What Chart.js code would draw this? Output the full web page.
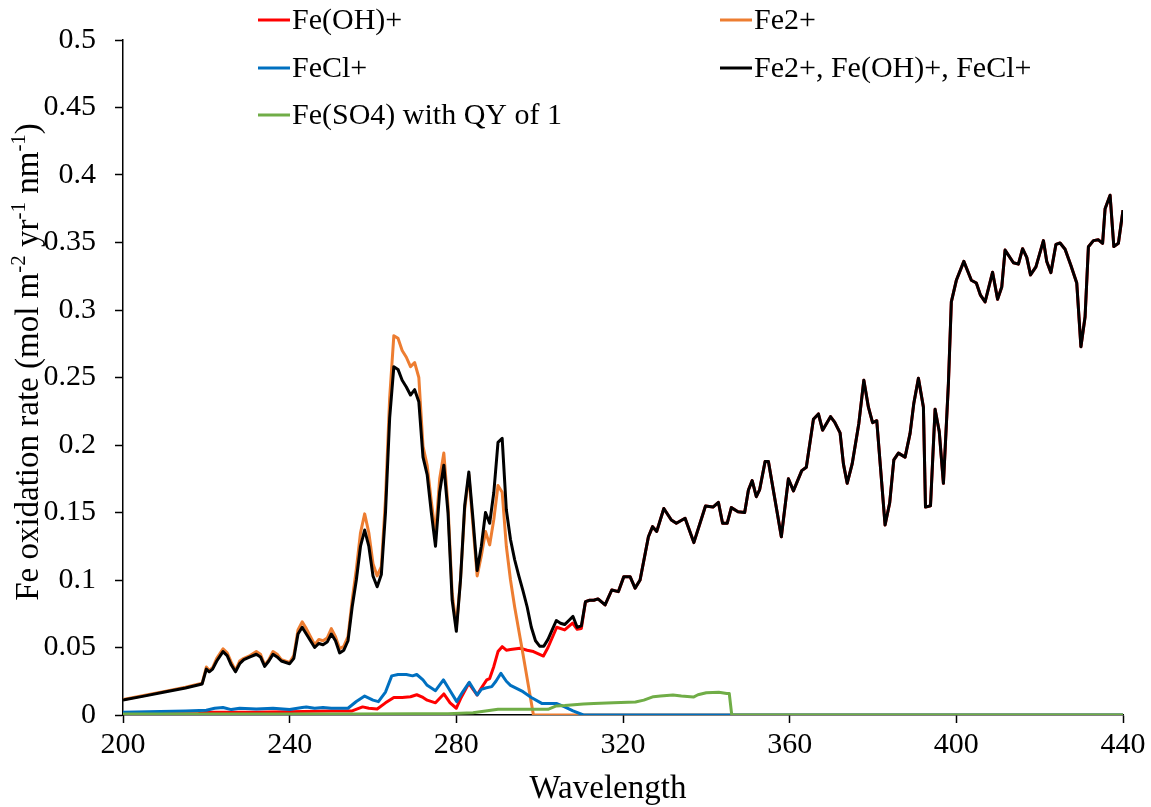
<!DOCTYPE html>
<html>
<head>
<meta charset="utf-8">
<title>Fe oxidation rate</title>
<script src="https://cdn.jsdelivr.net/npm/chart.js@4.4.1/dist/chart.umd.min.js"></script>
<style>
    html, body { margin: 0; padding: 0; background: #fff; }
    #chart { display: block; }
</style>
</head>
<body>
<canvas id="chart" width="1151" height="807"></canvas>
<script>
// Fe2+ (orange)
const fe2Nm = [200, 205, 210, 215, 219, 220, 220.7, 221.5, 222.5, 224, 225, 226, 227, 228, 229, 230.5, 232, 233, 234, 235, 236, 237, 238, 240, 241, 242, 243, 244, 245, 246, 247, 248, 249, 250, 251, 252, 253, 254, 255, 256, 257, 258, 259, 260, 261, 262, 263, 264, 265, 266, 267, 268, 269, 270, 271, 272, 273, 274, 275, 276, 277, 278, 279, 280, 281, 282, 283, 284, 285, 286, 287, 288, 289, 290, 291, 292, 293, 294, 296, 298.5, 440];
const fe2Rate = [0.0115, 0.0145, 0.0175, 0.0205, 0.0235, 0.0355, 0.033, 0.035, 0.042, 0.049, 0.046, 0.039, 0.033, 0.040, 0.042, 0.044, 0.047, 0.045, 0.037, 0.041, 0.047, 0.045, 0.041, 0.039, 0.044, 0.063, 0.069, 0.064, 0.058, 0.052, 0.056, 0.055, 0.057, 0.064, 0.058, 0.049, 0.051, 0.058, 0.085, 0.108, 0.135, 0.149, 0.135, 0.112, 0.103, 0.110, 0.160, 0.235, 0.281, 0.279, 0.270, 0.265, 0.258, 0.261, 0.250, 0.199, 0.185, 0.158, 0.134, 0.175, 0.194, 0.155, 0.090, 0.065, 0.100, 0.152, 0.178, 0.140, 0.103, 0.118, 0.136, 0.126, 0.145, 0.170, 0.165, 0.125, 0.100, 0.080, 0.045, 0, 0];

// Fe2+, Fe(OH)+, FeCl+ (black) up to 310 nm
const totalNm = [200, 205, 210, 215, 219, 220, 220.7, 221.5, 222.5, 224, 225, 226, 227, 228, 229, 230.5, 232, 233, 234, 235, 236, 237, 238, 240, 241, 242, 243, 244, 245, 246, 247, 248, 249, 250, 251, 252, 253, 254, 255, 256, 257, 258, 259, 260, 261, 262, 263, 264, 265, 266, 267, 268, 269, 270, 271, 272, 273, 274, 275, 276, 277, 278, 279, 280, 281, 282, 283, 284, 285, 286, 287, 288, 289, 290, 291, 292, 293, 294, 295, 296, 297, 298, 299, 300, 301, 302, 303, 304, 305, 306, 307, 308, 309, 310];
const totalRate = [0.011, 0.014, 0.017, 0.020, 0.023, 0.034, 0.032, 0.034, 0.040, 0.047, 0.044, 0.037, 0.032, 0.038, 0.041, 0.043, 0.045, 0.043, 0.036, 0.040, 0.045, 0.043, 0.040, 0.038, 0.042, 0.060, 0.065, 0.060, 0.055, 0.050, 0.053, 0.052, 0.054, 0.060, 0.055, 0.046, 0.048, 0.055, 0.080, 0.100, 0.125, 0.137, 0.125, 0.103, 0.095, 0.104, 0.150, 0.220, 0.258, 0.256, 0.248, 0.243, 0.237, 0.241, 0.232, 0.191, 0.178, 0.150, 0.125, 0.165, 0.185, 0.150, 0.085, 0.062, 0.100, 0.155, 0.180, 0.145, 0.107, 0.125, 0.150, 0.142, 0.165, 0.202, 0.205, 0.152, 0.130, 0.115, 0.103, 0.092, 0.080, 0.065, 0.055, 0.051, 0.051, 0.056, 0.063, 0.070, 0.068, 0.067, 0.070, 0.073, 0.065, 0.066];

// Fe(OH)+ (red) up to 310 nm
const feohNm = [200, 218, 220, 230, 240, 250, 255, 257.5, 259, 261, 263, 265, 267, 269, 270.5, 272, 273, 275, 277, 278.5, 280, 281, 283, 285, 286, 287.3, 288, 289, 290, 291, 292, 293, 295.3, 297, 298.5, 300.9, 302, 304.1, 306, 307.9, 309, 310];
const feohRate = [0.001, 0.001, 0.002, 0.002, 0.0025, 0.003, 0.003, 0.006, 0.005, 0.0045, 0.009, 0.013, 0.013, 0.0135, 0.015, 0.013, 0.011, 0.009, 0.0156, 0.009, 0.005, 0.012, 0.0235, 0.0148, 0.020, 0.026, 0.027, 0.036, 0.047, 0.0506, 0.048, 0.0485, 0.0494, 0.048, 0.047, 0.0437, 0.050, 0.065, 0.063, 0.068, 0.0635, 0.064];

// above 311 nm the red and black series coincide
const tailNm = [311, 312, 313, 314, 315.7, 317.3, 318.9, 320.2, 321.7, 322.9, 324.1, 326.1, 327.1, 328.1, 329.8, 331.6, 332.8, 334.9, 337, 339.8, 341.6, 342.9, 343.9, 345, 346, 347.6, 349.2, 350.1, 351, 352, 352.8, 354.1, 354.9, 358, 359.7, 360.9, 362.9, 364, 365.7, 366.9, 367.9, 369.8, 370.8, 372.1, 372.9, 373.8, 375, 376.6, 377.8, 378.9, 379.9, 380.9, 382.9, 384, 385, 386.1, 387.7, 388.9, 389.8, 390.9, 392.1, 392.6, 393.8, 394.9, 395.9, 396.9, 398.1, 398.8, 400, 401.8, 403.6, 404.8, 405.8, 406.9, 408.7, 409.9, 410.9, 411.7, 413.7, 414.9, 415.9, 416.9, 417.8, 419.1, 420.9, 421.7, 422.7, 423.9, 424.9, 426.1, 427.5, 428.9, 429.9, 430.9, 431.7, 432.9, 434.1, 435.1, 435.7, 436.9, 437.8, 438.9, 440];
const tailRate = [0.084, 0.085, 0.085, 0.086, 0.0815, 0.0926, 0.0914, 0.1025, 0.1025, 0.094, 0.100, 0.132, 0.1395, 0.136, 0.153, 0.1444, 0.142, 0.1457, 0.1277, 0.1548, 0.154, 0.1575, 0.142, 0.142, 0.1536, 0.1506, 0.150, 0.1667, 0.1736, 0.1617, 0.167, 0.1877, 0.1877, 0.132, 0.175, 0.166, 0.181, 0.1835, 0.219, 0.223, 0.211, 0.221, 0.217, 0.209, 0.186, 0.1716, 0.186, 0.216, 0.248, 0.228, 0.2165, 0.218, 0.1407, 0.157, 0.189, 0.194, 0.191, 0.2086, 0.231, 0.2494, 0.228, 0.154, 0.155, 0.2264, 0.21, 0.1716, 0.2457, 0.306, 0.322, 0.336, 0.322, 0.32, 0.311, 0.306, 0.328, 0.308, 0.317, 0.3444, 0.335, 0.334, 0.3454, 0.339, 0.326, 0.332, 0.3514, 0.336, 0.3277, 0.3486, 0.3496, 0.345, 0.333, 0.32, 0.2728, 0.295, 0.3469, 0.3514, 0.352, 0.3494, 0.375, 0.385, 0.347, 0.3494, 0.374];

// FeCl+ (blue)
const feclNm = [200, 215, 220, 222, 224, 226, 228, 232, 236, 240, 243, 244, 246, 248, 250, 252, 254, 256, 258, 260, 261.3, 263, 264.5, 266, 268, 269.5, 270.5, 272, 273, 275, 276.9, 278.1, 280.1, 281.5, 283.1, 285, 286, 287, 288.5, 289.5, 290.7, 292, 293, 296, 298, 300.5, 304, 306, 308, 310.5, 440];
const feclRate = [0.002, 0.003, 0.0035, 0.005, 0.0055, 0.004, 0.005, 0.0045, 0.005, 0.004, 0.0055, 0.006, 0.005, 0.0055, 0.005, 0.005, 0.005, 0.010, 0.014, 0.011, 0.0099, 0.017, 0.029, 0.030, 0.030, 0.029, 0.030, 0.026, 0.022, 0.018, 0.026, 0.020, 0.0099, 0.017, 0.0242, 0.0148, 0.019, 0.020, 0.021, 0.025, 0.0309, 0.025, 0.022, 0.0173, 0.013, 0.0086, 0.0086, 0.006, 0.003, 0, 0];

// Fe(SO4) with QY of 1 (green)
const feso4Nm = [200, 255, 270, 278, 284, 287, 290, 302, 304, 306, 310.5, 313, 317.7, 323, 325, 327.3, 329, 332, 334, 336.9, 338, 340, 343, 344.9, 345.5, 346.1, 440];
const feso4Rate = [0.0008, 0.0008, 0.001, 0.001, 0.0017, 0.003, 0.0042, 0.0042, 0.0067, 0.007, 0.0081, 0.0085, 0.0091, 0.0096, 0.011, 0.0136, 0.014, 0.0148, 0.014, 0.0133, 0.015, 0.0165, 0.0168, 0.016, 0.016, 0, 0];

const xTickValues = [200, 240, 280, 320, 360, 400, 440];
const yTickLabels = ['0', '0.05', '0.1', '0.15', '0.2', '0.25', '0.3', '0.35', '0.4', '0.45', '0.5'];

const FONT = "'Liberation Serif', 'Times New Roman', serif";
const FONT_SIZE = 30;
const TITLE_SIZE = 33;

const toPoints = (xs, ys) => xs.map((x, i) => ({ x: x, y: ys[i] }));

const lineSet = (label, points, color, order) => ({
    label: label,
    data: points,
    borderColor: color,
    backgroundColor: color,
    borderWidth: 3,
    pointRadius: 0,
    tension: 0,
    fill: false,
    borderJoinStyle: 'round',
    order: order
});

const datasets = [
    lineSet('Fe(OH)+', toPoints(feohNm.concat(tailNm), feohRate.concat(tailRate)), '#FF0000', 4),
    lineSet('Fe2+', toPoints(fe2Nm, fe2Rate), '#ED7D31', 3),
    lineSet('FeCl+', toPoints(feclNm, feclRate), '#0070C0', 2),
    lineSet('Fe2+, Fe(OH)+, FeCl+', toPoints(totalNm.concat(tailNm), totalRate.concat(tailRate)), '#000000', 1),
    lineSet('Fe(SO4) with QY of 1', toPoints(feso4Nm, feso4Rate), '#70AD47', 0)
];

// two-column legend like the spreadsheet one
const legendSlots = [
    { col: 0, row: 0 },
    { col: 1, row: 0 },
    { col: 0, row: 1 },
    { col: 1, row: 1 },
    { col: 0, row: 2 }
];
const legendPlugin = {
    id: 'twoColLegend',
    afterDraw(chart) {
        const ctx = chart.ctx;
        const colX = [258, 720];
        const rowY = [20, 68, 115];
        ctx.save();
        ctx.font = FONT_SIZE + 'px ' + FONT;
        ctx.textBaseline = 'middle';
        ctx.fillStyle = '#000';
        chart.data.datasets.forEach((ds, i) => {
            const slot = legendSlots[i];
            const x = colX[slot.col];
            const y = rowY[slot.row];
            ctx.strokeStyle = ds.borderColor;
            ctx.lineWidth = 3;
            ctx.beginPath();
            ctx.moveTo(x, y);
            ctx.lineTo(x + 32, y);
            ctx.stroke();
            ctx.fillText(ds.label, x + 34, y + 1);
        });
        ctx.restore();
    }
};

// axis titles; the y one carries superscripts
const yTitleParts = [
    { t: 'Fe oxidation rate (mol m', sup: false },
    { t: '-2', sup: true },
    { t: ' yr', sup: false },
    { t: '-1', sup: true },
    { t: ' nm', sup: false },
    { t: '-1', sup: true },
    { t: ')', sup: false }
];
const titlePlugin = {
    id: 'axisTitles',
    afterDraw(chart) {
        const ctx = chart.ctx;
        const supSize = Math.round(TITLE_SIZE * 0.65);
        ctx.save();
        ctx.fillStyle = '#000';
        ctx.textBaseline = 'middle';

        ctx.font = TITLE_SIZE + 'px ' + FONT;
        ctx.textAlign = 'center';
        ctx.fillText('Wavelength', 608, 789);

        ctx.textAlign = 'left';
        ctx.translate(29, 362);
        ctx.rotate(-Math.PI / 2);
        let total = 0;
        yTitleParts.forEach(p => {
            ctx.font = (p.sup ? supSize : TITLE_SIZE) + 'px ' + FONT;
            total += ctx.measureText(p.t).width;
        });
        let x = -total / 2;
        yTitleParts.forEach(p => {
            ctx.font = (p.sup ? supSize : TITLE_SIZE) + 'px ' + FONT;
            ctx.fillText(p.t, x, p.sup ? -10 : 0);
            x += ctx.measureText(p.t).width;
        });
        ctx.restore();
    }
};

const ctx = document.getElementById('chart').getContext('2d');
Chart.defaults.font.family = FONT;
Chart.defaults.color = '#000';

new Chart(ctx, {
    type: 'line',
    data: { datasets: datasets },
    options: {
        responsive: false,
        animation: false,
        layout: { padding: { left: 0, right: 28, top: 40, bottom: 0 } },
        plugins: {
            legend: { display: false },
            tooltip: { enabled: false }
        },
        scales: {
            x: {
                type: 'linear',
                min: 200,
                max: 440,
                afterFit(scale) { scale.height = 92; },
                afterBuildTicks(scale) { scale.ticks = xTickValues.map(v => ({ value: v })); },
                ticks: {
                    font: { size: FONT_SIZE },
                    color: '#000',
                    padding: 4,
                    maxRotation: 0
                },
                grid: {
                    drawOnChartArea: false,
                    drawTicks: true,
                    tickLength: 8,
                    tickColor: '#000',
                    tickWidth: 1.5
                },
                border: { color: '#000', width: 1.5 }
            },
            y: {
                min: 0,
                max: 0.5,
                afterFit(scale) { scale.width = 123; },
                ticks: {
                    stepSize: 0.05,
                    font: { size: FONT_SIZE },
                    color: '#000',
                    padding: 19,
                    callback: (v, i) => yTickLabels[i]
                },
                grid: {
                    drawOnChartArea: false,
                    drawTicks: true,
                    tickLength: 8,
                    tickColor: '#000',
                    tickWidth: 1.5
                },
                border: { color: '#000', width: 1.5 }
            }
        }
    },
    plugins: [legendPlugin, titlePlugin]
});
</script>
</body>
</html>
